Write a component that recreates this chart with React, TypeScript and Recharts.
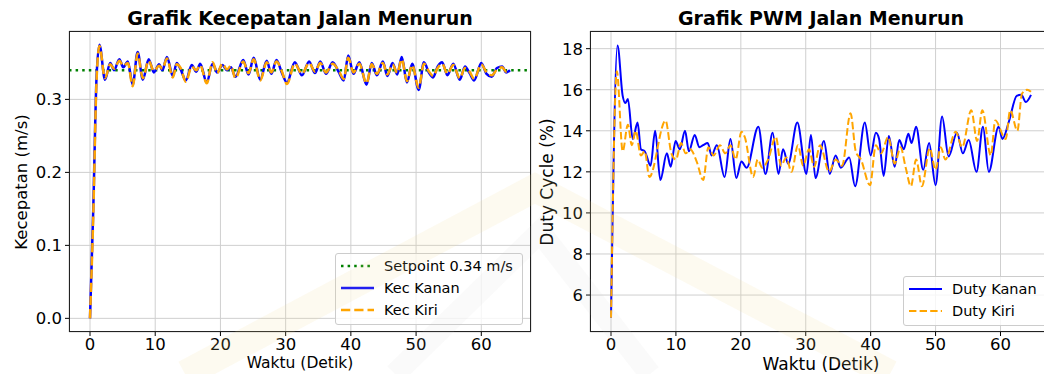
import React from 'react';
import { LineChart, Line, XAxis, YAxis, CartesianGrid, ReferenceLine } from 'recharts';

// Grafik Kecepatan (m/s) - shared time axis for both wheels
const kecT = [
  0, 0.5, 1.0, 1.45, 2.3, 3.1, 3.7, 4.5, 5.1, 5.8,
  6.55, 7.3, 8.1, 9.0, 9.8, 10.6, 11.1, 11.8, 12.7, 13.3,
  13.9, 14.7, 15.6, 16.3, 16.9, 17.9, 18.8, 19.5, 20.3, 21.0,
  21.6, 22.3, 23.5, 24.3, 25.1, 26.1, 27.1, 27.8, 28.6, 29.4,
  30.2, 31.4, 32.5, 33.6, 34.5, 35.3, 36.2, 37.2, 38.1, 38.9,
  39.6, 40.4, 41.3, 42.4, 43.2, 44.0, 44.9, 45.6, 46.4, 47.1,
  47.8, 48.6, 49.4, 50.4, 51.2, 52.0, 52.6, 53.3, 54.0, 54.8,
  55.7, 56.7, 57.5, 58.2, 58.9, 60.0, 60.8, 61.6, 62.4, 63.2,
  63.8, 64.4,
];
const kecKanan = [
  0, 0.15, 0.33, 0.375, 0.327, 0.350, 0.340, 0.355, 0.344, 0.352,
  0.320, 0.365, 0.327, 0.355, 0.337, 0.348, 0.340, 0.358, 0.332, 0.350,
  0.341, 0.326, 0.347, 0.338, 0.349, 0.323, 0.349, 0.337, 0.347, 0.340,
  0.344, 0.331, 0.354, 0.334, 0.357, 0.327, 0.353, 0.335, 0.354, 0.337,
  0.323, 0.351, 0.333, 0.352, 0.336, 0.352, 0.335, 0.351, 0.338, 0.326,
  0.360, 0.335, 0.351, 0.320, 0.350, 0.333, 0.352, 0.332, 0.350, 0.334,
  0.358, 0.323, 0.349, 0.313, 0.351, 0.336, 0.330, 0.345, 0.351, 0.333,
  0.349, 0.327, 0.345, 0.336, 0.326, 0.350, 0.335, 0.331, 0.343, 0.345,
  0.337, 0.340,
];
const kecKiri = [
  0, 0.14, 0.325, 0.373, 0.329, 0.348, 0.342, 0.353, 0.346, 0.350,
  0.318, 0.363, 0.329, 0.353, 0.339, 0.346, 0.342, 0.356, 0.330, 0.348,
  0.343, 0.324, 0.345, 0.340, 0.347, 0.322, 0.351, 0.336, 0.349, 0.341,
  0.346, 0.329, 0.352, 0.336, 0.355, 0.326, 0.351, 0.337, 0.352, 0.339,
  0.321, 0.349, 0.335, 0.350, 0.338, 0.350, 0.337, 0.349, 0.340, 0.328,
  0.357, 0.337, 0.349, 0.322, 0.348, 0.335, 0.350, 0.334, 0.348, 0.336,
  0.355, 0.325, 0.347, 0.316, 0.349, 0.338, 0.332, 0.343, 0.349, 0.335,
  0.347, 0.329, 0.343, 0.338, 0.328, 0.348, 0.337, 0.333, 0.341, 0.344,
  0.338, 0.341,
];
const setpoint = 0.34;

// Grafik PWM (duty cycle %)
const dutyKananT = [
  0, 1.0, 1.8, 2.2, 2.6, 3.35, 4.1, 4.6, 5.2, 6.1,
  6.8, 7.6, 8.6, 9.2, 9.95, 10.6, 11.4, 12.0, 12.9, 13.6,
  14.2, 14.9, 15.5, 16.3, 17.5, 18.4, 19.3, 20.1, 20.9, 22.7,
  23.8, 24.9, 25.8, 26.5, 27.3, 28.7, 30.1, 30.8, 31.5, 32.8,
  33.7, 34.6, 35.4, 36.7, 37.6, 39.1, 40.0, 40.8, 41.3, 42.0,
  42.8, 43.7, 44.4, 45.1, 45.8, 46.3, 47.0, 48.1, 49.0, 50.0,
  51.0, 52.0, 53.3, 54.2, 55.1, 56.3, 57.3, 58.2, 59.7, 60.3,
  61.3, 62.5, 63.2, 63.9, 64.7,
];
const dutyKanan = [
  4.9, 18.15, 15.7, 15.35, 15.55, 13.6, 14.4, 13.1, 13.0, 12.3,
  14.0, 11.6, 12.9, 12.25, 13.5, 13.1, 14.0, 13.0, 13.8, 13.2,
  13.3, 13.4, 12.8, 13.3, 11.75, 13.6, 11.7, 12.5, 12.2, 14.2,
  11.9, 13.9, 11.9, 13.1, 12.4, 14.4, 11.9, 13.8, 11.7, 13.5,
  11.9, 12.8, 12.2, 12.7, 11.3, 14.4, 12.8, 13.9, 13.6, 11.8,
  13.75, 12.25, 13.55, 13.1, 13.85, 13.4, 14.2, 12.1, 13.4, 11.35,
  14.7, 12.75, 13.9, 12.9, 13.55, 12.0, 14.2, 12.0, 14.2, 13.6,
  14.45, 15.7, 15.75, 15.4, 15.75,
];
const dutyKiriT = [
  0, 0.9, 1.8, 2.6, 3.2, 3.8, 4.6, 5.2, 5.9, 8.4,
  9.3, 10.0, 10.8, 11.5, 12.2, 13.2, 14.2, 15.0, 15.8, 16.8,
  17.6, 18.4, 19.2, 20.1, 20.6, 21.9, 22.6, 23.3, 24.2, 25.4,
  26.2, 27.0, 27.8, 28.8, 29.6, 30.5, 31.3, 32.2, 33.6, 34.6,
  35.6, 36.9, 37.7, 38.5, 39.9, 40.8, 41.6, 42.7, 43.7, 44.6,
  45.4, 46.2, 47.0, 47.9, 49.1, 50.0, 50.8, 51.5, 53.1, 54.1,
  55.5, 56.4, 57.2, 58.5, 59.2, 60.8, 61.5, 62.6, 63.3, 64.1,
  64.7,
];
const dutyKiri = [
  4.9, 16.9, 13.0, 14.3, 13.3, 14.0, 12.8, 13.0, 11.75, 14.5,
  12.9, 12.6, 13.4, 12.9, 13.1, 12.5, 11.6, 13.2, 12.8, 13.3,
  12.9, 13.3, 12.6, 13.95, 13.7, 11.75, 12.6, 12.2, 12.6, 13.7,
  12.3, 12.7, 12.0, 13.3, 12.3, 13.1, 12.25, 13.3, 12.0, 12.6,
  12.3, 14.85, 13.0, 12.6, 11.35, 13.3, 12.9, 13.7, 12.4, 13.2,
  12.2, 11.3, 12.6, 11.3, 13.15, 12.1, 13.2, 12.6, 13.95, 13.2,
  15.0, 13.5, 15.0, 12.8, 14.5, 13.6, 15.0, 14.0, 15.8, 16.0,
  15.9,
];

const xTicks = [0, 10, 20, 30, 40, 50, 60];
const kecTicks = [0, 0.1, 0.2, 0.3];
const dutyTicks = [6, 8, 10, 12, 14, 16, 18];

const kecData = kecT.map((t, i) => ({ t, kanan: kecKanan[i], kiri: kecKiri[i] }));
const dutyKananData = dutyKananT.map((t, i) => ({ t, v: dutyKanan[i] }));
const dutyKiriData = dutyKiriT.map((t, i) => ({ t, v: dutyKiri[i] }));

const FONT = '"DejaVu Sans", sans-serif';
const BLUE = '#0000ff';
const ORANGE = '#ffa500';
const GREEN = '#008000';
const tickStyle = { fill: '#000', fontSize: 16.5, fontFamily: FONT };

type LegendItem = { label: string; color: string; width: number; dash?: string };

function LegendBox({ left, top, width, items }: { left: number; top: number; width: number; items: LegendItem[] }) {
  return (
    <div style={{
      position: 'absolute', left, top, width, boxSizing: 'border-box',
      background: 'rgba(255,255,255,0.8)', border: '1px solid #cccccc', borderRadius: 3,
      padding: '1px 0 3px 0',
    }}>
      {items.map((it) => (
        <div key={it.label} style={{ display: 'flex', alignItems: 'center', height: 22 }}>
          <svg width={44} height={22} style={{ display: 'block' }}>
            <line x1={5} x2={38} y1={11} y2={11} stroke={it.color} strokeWidth={it.width} strokeDasharray={it.dash} />
          </svg>
          <span style={{ fontSize: 14.5, marginLeft: 4, whiteSpace: 'nowrap', color: '#000' }}>{it.label}</span>
        </div>
      ))}
    </div>
  );
}

function Text({ x, y, size, children, bold, rotate }: { x: number; y: number; size: number; children: React.ReactNode; bold?: boolean; rotate?: boolean }) {
  return (
    <div style={{
      position: 'absolute', left: x, top: y, fontSize: size, lineHeight: 1, whiteSpace: 'nowrap',
      fontWeight: bold ? 'bold' : 'normal', color: '#000',
      transform: `translate(-50%, -50%)${rotate ? ' rotate(-90deg)' : ''}`,
    }}>
      {children}
    </div>
  );
}

export default function App() {
  return (
    <div style={{
      position: 'absolute', left: 0, top: 0, width: 1044, height: 374, overflow: 'hidden',
      background: '#fff', fontFamily: FONT,
    }}>
      {/* Kecepatan */}
      <div style={{ position: 'absolute', left: 0, top: 0 }}>
        <LineChart width={540} height={374} data={kecData} margin={{ top: 31, right: 9, bottom: 0, left: 9 }}>
          <CartesianGrid stroke="#cfcfcf" strokeWidth={1} />
          <XAxis
            dataKey="t" type="number" domain={[-3.22, 67.62]} allowDataOverflow
            ticks={xTicks} height={42} axisLine={false}
            tickSize={4} tickMargin={2} tickLine={{ stroke: '#000' }} tick={tickStyle}
          />
          <YAxis
            type="number" domain={[-0.0187, 0.3937]} allowDataOverflow
            ticks={kecTicks} width={60} axisLine={false}
            tickSize={4} tickMargin={3} tickLine={{ stroke: '#000' }} tick={tickStyle}
            tickFormatter={(v: number) => v.toFixed(1)}
          />
          <ReferenceLine y={setpoint} stroke={GREEN} strokeWidth={2.5} strokeDasharray="2.5 4.1" />
          <Line type="monotone" dataKey="kanan" stroke={BLUE} strokeWidth={2.5} dot={false} isAnimationActive={false} />
          <Line type="monotone" dataKey="kiri" stroke={ORANGE} strokeWidth={2.5} strokeDasharray="9.25 4" dot={false} isAnimationActive={false} />
        </LineChart>
      </div>

      {/* PWM */}
      <div style={{ position: 'absolute', left: 530, top: 0 }}>
        <LineChart width={530} height={374} margin={{ top: 31, right: 8, bottom: 0, left: 10 }}>
          <CartesianGrid stroke="#cfcfcf" strokeWidth={1} />
          <XAxis
            dataKey="t" type="number" domain={[-3.235, 67.935]} allowDataOverflow
            ticks={xTicks} height={42} axisLine={false}
            tickSize={4} tickMargin={2} tickLine={{ stroke: '#000' }} tick={tickStyle}
          />
          <YAxis
            type="number" domain={[4.2, 18.86]} allowDataOverflow
            ticks={dutyTicks} width={50} axisLine={false}
            tickSize={4} tickMargin={3} tickLine={{ stroke: '#000' }} tick={tickStyle}
          />
          <Line data={dutyKananData} type="monotone" dataKey="v" stroke={BLUE} strokeWidth={2} dot={false} isAnimationActive={false} />
          <Line data={dutyKiriData} type="monotone" dataKey="v" stroke={ORANGE} strokeWidth={2} strokeDasharray="7.4 3.2" dot={false} isAnimationActive={false} />
        </LineChart>
      </div>

      {/* axes frames */}
      <div style={{ position: 'absolute', left: 69, top: 31, width: 462, height: 301, border: '1px solid #222', boxSizing: 'border-box', pointerEvents: 'none' }} />
      <div style={{ position: 'absolute', left: 590, top: 31, width: 462, height: 301, border: '1px solid #222', boxSizing: 'border-box', pointerEvents: 'none' }} />

      {/* titles and axis labels */}
      <Text x={300} y={18} size={19} bold>Grafik Kecepatan Jalan Menurun</Text>
      <Text x={821} y={18} size={19} bold>Grafik PWM Jalan Menurun</Text>
      <Text x={300} y={364} size={15.5}>Waktu (Detik)</Text>
      <Text x={821} y={364} size={17}>Waktu (Detik)</Text>
      <Text x={22} y={181.5} size={16.5} rotate>Kecepatan (m/s)</Text>
      <Text x={547} y={181.5} size={17} rotate>Duty Cycle (%)</Text>

      <LegendBox
        left={335} top={253} width={188}
        items={[
          { label: 'Setpoint 0.34 m/s', color: GREEN, width: 2.5, dash: '2.5 4.1' },
          { label: 'Kec Kanan', color: BLUE, width: 2.5 },
          { label: 'Kec Kiri', color: ORANGE, width: 2.5, dash: '9.25 4' },
        ]}
      />
      <LegendBox
        left={903} top={276} width={145}
        items={[
          { label: 'Duty Kanan', color: BLUE, width: 2 },
          { label: 'Duty Kiri', color: ORANGE, width: 2, dash: '7.4 3.2' },
        ]}
      />

      {/* very faint watermark tint */}
      <svg width={1044} height={374} style={{ position: 'absolute', left: 0, top: 0, pointerEvents: 'none' }}>
        <polyline points="185,374 535,188 890,374" fill="none" stroke="#f2df94" strokeWidth={28} strokeOpacity={0.14} />
        <polyline points="395,374 540,232 650,374" fill="none" stroke="#c8c8c8" strokeWidth={22} strokeOpacity={0.09} />
      </svg>
    </div>
  );
}
